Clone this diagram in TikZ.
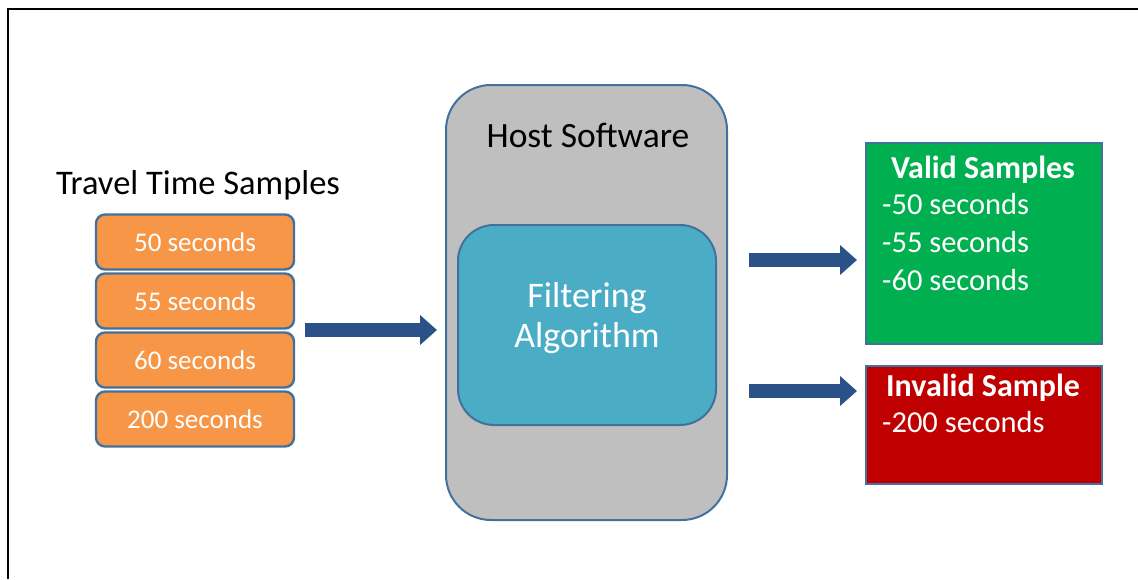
\documentclass[tikz,border=0pt]{standalone}
\usepackage{fontspec}
\setmainfont{Carlito}
\usetikzlibrary{arrows.meta,calc}
\definecolor{bordblue}{HTML}{41719C}
\definecolor{arrowblue}{HTML}{2A5288}
\definecolor{orangefill}{HTML}{F79646}
\definecolor{hostgray}{HTML}{BFBFBF}
\definecolor{tealfill}{HTML}{4BACC6}
\definecolor{greenfill}{HTML}{00B050}
\definecolor{redfill}{HTML}{C00000}
\tikzset{
  samplebox/.style={draw=bordblue, line width=2.4pt, fill=orangefill, rounded corners=9pt,
    minimum width=198pt, minimum height=55pt, inner sep=0pt, text=white,
    font=\fontsize{27}{32}\selectfont},
  bigarrow/.style={draw=arrowblue, line width=14pt, -{Triangle[length=17pt,width=29pt]}},
  resultbox/.style={draw=bordblue, line width=2.2pt, minimum width=236pt, inner sep=0pt,
    text=white, anchor=north west},
  resultline/.style={text=white, font=\fontsize{30.5}{38}\selectfont, anchor=base west, inner sep=0pt},
  resulttitle/.style={text=white, font=\fontsize{32}{38}\bfseries\selectfont, anchor=base},
}
\begin{document}
\begin{tikzpicture}[x=1pt,y=-1pt]
\useasboundingbox (0,0) rectangle (1138,579);
% frame
\draw[line width=2pt] (8,579) -- (8,9) -- (1138,9);
% title
\node[font=\fontsize{34.5}{40}\selectfont, anchor=base] (title) at (198,194) {Travel Time Samples};
% sample stack
\node[samplebox] (s1) at (195,242) {50 seconds};
\node[samplebox] (s2) at (195,301) {55 seconds};
\node[samplebox] (s3) at (195,360) {60 seconds};
\node[samplebox] (s4) at (195,419) {200 seconds};
\coordinate (stackE) at (296,330);
% host software
\node[draw=bordblue, line width=2pt, fill=hostgray, rounded corners=45pt,
  minimum width=281pt, minimum height=435pt, inner sep=0pt] (host) at (586.5,302.5) {};
\node[font=\fontsize{35.5}{40}\selectfont, anchor=base] (hostlbl) at (588,147) {Host Software};
\node[draw=bordblue, line width=2pt, fill=tealfill, rounded corners=36pt,
  minimum width=258pt, minimum height=200pt, inner sep=0pt] (filter) at (587,325) {};
\node[text=white, align=center, font=\fontsize{36}{40}\selectfont] (filterlbl) at (587,318) {Filtering\\Algorithm};
% results
\node[resultbox, fill=greenfill, minimum height=201pt] (valid) at (865,142) {};
\node[resulttitle] (validT) at (983,178) {Valid Samples};
\node[resultline] (validL) at (882,214) {-50 seconds};
\node[resultline] (validL2) at (882,252) {-55 seconds};
\node[resultline] (validL3) at (882,290) {-60 seconds};
\node[resultbox, fill=redfill, minimum height=118pt] (invalid) at (865,365) {};
\node[resulttitle] (invT) at (983,396) {Invalid Sample};
\node[resultline] (invL) at (882,432) {-200 seconds};
% arrows
\coordinate (a2) at (0,260);
\coordinate (a3) at (0,391);
\draw[bigarrow, shorten <=9pt, shorten >=8pt] (stackE) -- (stackE -| host.west);
\draw[bigarrow, shorten <=21pt, shorten >=8pt] (host.east |- a2) -- (valid.west |- a2);
\draw[bigarrow, shorten <=21pt, shorten >=8pt] (host.east |- a3) -- (invalid.west |- a3);
\end{tikzpicture}
\end{document}
